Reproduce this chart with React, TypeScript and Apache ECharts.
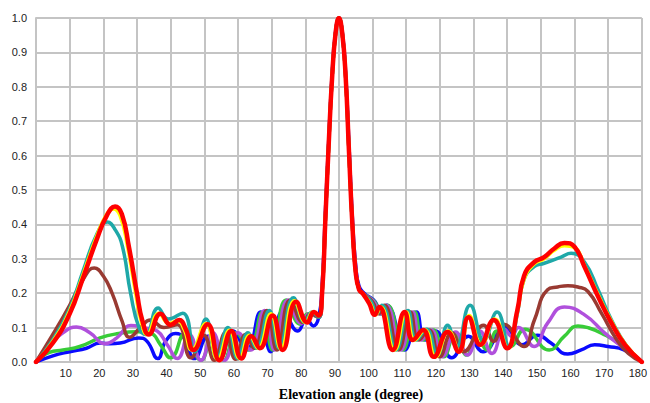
import React, { useEffect, useRef } from "react";
import * as echarts from "echarts";

// x = elevation angle (degree), y = normalized pattern
const xTicks = [0, 10, 20, 30, 40, 50, 60, 70, 80, 90, 100, 110, 120, 130, 140, 150, 160, 170, 180];
const yTicks = [0, 0.1, 0.2, 0.3, 0.4, 0.5, 0.6, 0.7, 0.8, 0.9, 1.0];
const xTitle = "Elevation angle (degree)";

const mainLobe: number[][] = [
  [85, 0.2], [86, 0.42], [87, 0.64], [88, 0.83], [89, 0.955], [90, 1.0],
  [91, 0.955], [92, 0.83], [93, 0.61], [94, 0.4], [95, 0.26], [96, 0.21], [97, 0.2],
];
const mainLobeBlue: number[][] = [
  [85, 0.22], [86, 0.44], [87, 0.65], [88, 0.84], [89, 0.96], [90, 1.0],
  [91, 0.96], [92, 0.84], [93, 0.63], [94, 0.42], [95, 0.28], [96, 0.22], [97.5, 0.2],
];

const blueLeft: number[][] = [
  [0, 0], [5, 0.018], [10, 0.03], [15, 0.04], [19, 0.055], [22, 0.053], [25, 0.055], [30.5, 0.07], [33, 0.06],
  [36.2, 0.01], [38.5, 0.06], [41.5, 0.083], [44, 0.07], [47, 0.01], [51, 0.075], [54.5, 0.008], [58.5, 0.09],
  [62.6, 0.035], [66.7, 0.145], [69.7, 0.03], [73.5, 0.15], [77.8, 0.09], [80.4, 0.125], [82.4, 0.105], [84, 0.13],
];
const blueRight: number[][] = [
  [100.8, 0.175], [102.4, 0.14], [104.2, 0.165], [109.6, 0.035], [113.1, 0.145], [115.6, 0.064], [118.6, 0.09],
  [123.5, 0.012], [128.5, 0.075], [132.8, 0.03], [139.4, 0.1], [144.4, 0.05], [149, 0.078], [153, 0.055],
  [158, 0.023], [162, 0.035], [166, 0.05], [170, 0.045], [174.7, 0.035], [180, 0],
];

const greenLeft: number[][] = [
  [0, 0], [4, 0.028], [8, 0.035], [13, 0.045], [19, 0.07], [24, 0.082], [30, 0.088], [34, 0.084], [37, 0.05],
  [40, 0.012], [44.4, 0.085], [49, 0.005], [52.5, 0.08], [55.8, 0.005], [59.5, 0.085], [63.3, 0.035],
  [67.3, 0.145], [70.3, 0.035], [74.3, 0.18], [78.5, 0.11], [80.8, 0.14], [84, 0.13],
];
const greenRight: number[][] = [
  [100.6, 0.175], [102.6, 0.14], [104.4, 0.165], [109, 0.035], [112.5, 0.145], [115, 0.064], [118, 0.093],
  [121.2, 0.015], [124.5, 0.08], [128, 0.02], [131, 0.08], [134, 0.035], [137, 0.09], [140.8, 0.045],
  [145.3, 0.095], [152.5, 0.035], [157, 0.075], [161, 0.105], [164, 0.1], [168, 0.084], [174.7, 0.045], [180, 0],
];

const purpleLeft: number[][] = [
  [0, 0], [4, 0.05], [8, 0.085], [12, 0.102], [16, 0.085], [20.5, 0.053], [24, 0.07], [28.2, 0.106], [32, 0.1],
  [36, 0.09], [39, 0.05], [42, 0.01], [45.5, 0.08], [49, 0.005], [52.5, 0.085], [56, 0.005], [60, 0.085],
  [63.8, 0.035], [67.9, 0.15], [70.9, 0.035], [74.9, 0.18], [78.9, 0.112], [81.2, 0.14], [84, 0.13],
];
const purpleRight: number[][] = [
  [100.4, 0.175], [102.2, 0.14], [104, 0.165], [108.4, 0.035], [111.9, 0.145], [114.4, 0.064], [117.4, 0.093],
  [120.6, 0.015], [124.7, 0.087], [128.2, 0.02], [131.8, 0.09], [135.5, 0.025], [139.2, 0.095], [141.3, 0.075],
  [143.3, 0.1], [148, 0.045], [152, 0.113], [157, 0.16], [163, 0.137], [169, 0.084], [174.7, 0.04], [180, 0],
];

const brownLeft: number[][] = [
  [0, 0], [5, 0.08], [10, 0.165], [14, 0.24], [17.3, 0.273], [20, 0.25], [22.6, 0.2], [25.6, 0.118], [27.8, 0.072],
  [31, 0.1], [34, 0.122], [38, 0.1], [42, 0.108], [46, 0.012], [49.8, 0.078], [53, 0.005], [56.3, 0.085],
  [59.3, 0.008], [62.3, 0.08], [64.8, 0.04], [68.6, 0.15], [71.6, 0.035], [75.6, 0.18], [79.4, 0.115],
  [81.6, 0.14], [84, 0.13],
];
const brownRight: number[][] = [
  [100, 0.175], [101.8, 0.14], [103.5, 0.165], [107.7, 0.035], [111.2, 0.145], [113.7, 0.064], [116.7, 0.093],
  [119.9, 0.015], [123.5, 0.085], [127, 0.03], [133, 0.107], [136, 0.06], [139, 0.11], [145, 0.045],
  [148, 0.12], [152, 0.21], [155, 0.218], [158, 0.222], [161, 0.218], [164, 0.205], [168, 0.142],
  [172.6, 0.064], [176, 0.025], [180, 0],
];

const tealLeft: number[][] = [
  [0, 0], [5, 0.065], [10, 0.155], [14, 0.265], [18, 0.37], [21.2, 0.407], [23.5, 0.385], [25.7, 0.335],
  [28.1, 0.2], [30.6, 0.1], [32.6, 0.08], [36.3, 0.157], [39.3, 0.125], [43.6, 0.142], [47.2, 0.03],
  [50.5, 0.125], [53.8, 0.01], [57, 0.1], [60, 0.01], [63, 0.085], [65.5, 0.04], [69.3, 0.15], [72.3, 0.04],
  [76.5, 0.187], [79.9, 0.115], [82, 0.145], [84, 0.13],
];
const tealRight: number[][] = [
  [99.6, 0.175], [101.2, 0.14], [102.8, 0.165], [107, 0.035], [110.5, 0.15], [113, 0.064], [116, 0.095],
  [119.2, 0.02], [122.3, 0.107], [124.9, 0.044], [129, 0.165], [133, 0.064], [137, 0.145], [140.6, 0.045],
  [143, 0.14], [145, 0.24], [148, 0.277], [151, 0.287], [156, 0.305], [159, 0.316], [163, 0.29], [167, 0.21],
  [171, 0.122], [175.6, 0.045], [180, 0],
];

const yellowLeft: number[][] = [
  [0, 0], [5, 0.06], [10, 0.148], [14, 0.255], [18, 0.365], [21, 0.43], [23, 0.445], [25, 0.425], [27.2, 0.335],
  [29.6, 0.2], [31.2, 0.12], [33, 0.08], [36.5, 0.142], [39.5, 0.112], [42, 0.12], [44, 0.095], [46.3, 0.035],
  [50.5, 0.112], [54, 0.008], [57.5, 0.092], [60.5, 0.01], [63.5, 0.078], [66, 0.04], [69.8, 0.14],
  [72.8, 0.038], [76.8, 0.178], [80.2, 0.115], [82.3, 0.145], [84, 0.135],
];
const yellowRight: number[][] = [
  [99.3, 0.17], [100.9, 0.137], [102.4, 0.16], [106.5, 0.035], [110, 0.145], [112.5, 0.064], [115.5, 0.093],
  [118.7, 0.015], [122.6, 0.09], [125.8, 0.03], [128.7, 0.135], [132.3, 0.05], [136.3, 0.125], [140.2, 0.04],
  [143, 0.145], [145, 0.24], [148, 0.285], [151, 0.3], [154, 0.325], [157, 0.338], [160, 0.332], [163, 0.28],
  [167, 0.196], [171, 0.118], [175, 0.053], [180, 0],
];

const redLeft: number[][] = [
  [0, 0], [5, 0.055], [10, 0.14], [14, 0.245], [18, 0.355], [21, 0.425], [23.5, 0.452], [25.5, 0.43],
  [27.6, 0.335], [30, 0.2], [31.6, 0.12], [33.5, 0.08], [37, 0.14], [40, 0.108], [42.5, 0.122], [44.5, 0.095],
  [46.8, 0.035], [51, 0.11], [54.5, 0.005], [58, 0.09], [61, 0.01], [64, 0.075], [66.5, 0.04], [70.3, 0.135],
  [73.3, 0.035], [77.3, 0.175], [80.6, 0.115], [82.6, 0.145], [84, 0.135],
];
const redRight: number[][] = [
  [99, 0.17], [100.6, 0.137], [102, 0.16], [106, 0.035], [109.5, 0.145], [112, 0.064], [115, 0.093],
  [118.2, 0.015], [122.3, 0.087], [125.6, 0.03], [128.5, 0.13], [132, 0.05], [136, 0.122], [140, 0.04],
  [143, 0.15], [145, 0.25], [148, 0.29], [151, 0.305], [154, 0.33], [157, 0.346], [160, 0.335], [163, 0.276],
  [167, 0.19], [171, 0.113], [175, 0.05], [180, 0],
];

const seriesDefs = [
  { name: "s1", color: "#0a0aff", width: 3.5, data: [...blueLeft, ...mainLobeBlue, ...blueRight] },
  { name: "s2", color: "#38cc38", width: 3.5, data: [...greenLeft, ...mainLobe, ...greenRight] },
  { name: "s3", color: "#b050dc", width: 3.5, data: [...purpleLeft, ...mainLobe, ...purpleRight] },
  { name: "s4", color: "#993a32", width: 3.5, data: [...brownLeft, ...mainLobe, ...brownRight] },
  { name: "s5", color: "#1fa8a8", width: 3.5, data: [...tealLeft, ...mainLobe, ...tealRight] },
  { name: "s6", color: "#ffff00", width: 3.5, data: [...yellowLeft, ...mainLobe, ...yellowRight] },
  { name: "s7", color: "#ff0000", width: 4.5, data: [...redLeft, ...mainLobe, ...redRight] },
];

const gridColor = "#c4c4c4";

export default function App() {
  const ref = useRef<HTMLDivElement>(null);
  useEffect(() => {
    if (!ref.current) return;
    const chart = echarts.init(ref.current, null, { renderer: "svg" });
    chart.setOption({
      animation: false,
      backgroundColor: "#ffffff",
      grid: { left: 36, right: 3, top: 18, bottom: 41, containLabel: false },
      xAxis: {
        type: "value",
        min: xTicks[0],
        max: xTicks[xTicks.length - 1],
        interval: 10,
        axisLine: { show: true, lineStyle: { color: gridColor, width: 2 } },
        axisTick: { show: false },
        splitLine: { show: true, lineStyle: { color: gridColor, width: 2 } },
        axisLabel: {
          formatter: (v: number) => (v === 0 ? "" : String(v)),
          color: "#222",
          fontSize: 11,
          fontFamily: "Liberation Sans, Arial, sans-serif",
          margin: 5,
          padding: [0, 8, 0, 0],
        },
      },
      yAxis: {
        type: "value",
        min: yTicks[0],
        max: yTicks[yTicks.length - 1],
        interval: 0.1,
        axisLine: { show: true, lineStyle: { color: gridColor, width: 2 } },
        axisTick: { show: false },
        splitLine: { show: true, lineStyle: { color: gridColor, width: 2 } },
        axisLabel: {
          formatter: (v: number) => v.toFixed(1),
          color: "#222",
          fontSize: 11,
          fontFamily: "Liberation Sans, Arial, sans-serif",
          margin: 9,
        },
      },
      graphic: [
        {
          type: "text",
          x: 351,
          y: 394,
          style: {
            text: xTitle,
            font: 'bold 14px "Liberation Serif", "Times New Roman", serif',
            fill: "#000",
            textAlign: "center",
            textVerticalAlign: "middle",
          },
        },
      ],
      series: seriesDefs.map((s) => ({
        name: s.name,
        type: "line",
        data: s.data,
        smooth: 0.5,
        showSymbol: false,
        symbol: "none",
        lineStyle: { color: s.color, width: s.width, join: "round", cap: "round" },
        itemStyle: { color: s.color },
        z: 2,
      })),
    });
    return () => chart.dispose();
  }, []);
  return <div ref={ref} style={{ width: 650, height: 403, position: "absolute", left: 0, top: 0 }} />;
}
